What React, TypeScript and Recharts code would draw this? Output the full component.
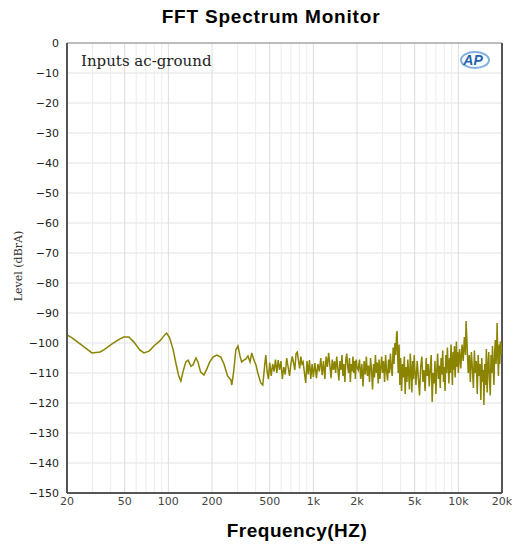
import { LineChart, Line, XAxis, YAxis, CartesianGrid, ReferenceLine } from 'recharts';

// smooth low-frequency part
const lowFreq = [20, 21.7, 24.6, 27.9, 29.7, 33.8, 35.9, 40.9, 46.1, 49.2, 53.4, 57.9, 63.5, 67.8, 73.7, 79.5, 87.4, 94.4, 97.4, 102, 108, 113, 118, 122, 126, 132, 137, 143, 148, 155, 160, 167, 176, 184, 193, 203, 216, 230, 242, 256, 270, 274, 283, 292, 302, 312, 320, 332, 343, 354, 366, 376, 389, 402, 414, 434, 448, 462];
const lowLevel = [-97.3, -98.3, -100.3, -102.3, -103.3, -103, -102.3, -100.3, -98.7, -98, -98, -99.7, -102.3, -103.3, -102.7, -101, -99.3, -97.3, -96.7, -98.3, -102.3, -107, -111, -112.7, -109.7, -106.3, -105.7, -107.7, -107.3, -105, -106.3, -109.7, -110.7, -108.7, -106.3, -104.7, -104, -104.7, -107, -111, -112.3, -114, -109, -102.3, -101, -104.3, -106.3, -105.7, -105.3, -104.3, -106.3, -103.3, -105.7, -107.3, -110, -113.3, -114, -107.3];

// noise floor 470 Hz - 1 kHz
const midFreq = [470, 480, 490, 500, 512, 524, 536, 548, 560, 572, 585, 598, 611, 625, 640, 655, 670, 685, 700, 715, 730, 745, 760, 775, 790, 805, 820, 835, 850, 868, 886, 904, 922, 940, 960, 980, 1000];
const midLevel = [-104, -109.5, -112, -106.5, -111, -107, -109.5, -105.5, -110, -105.7, -109, -106, -112, -108, -110.5, -105, -108, -111, -107, -104.5, -106.5, -109, -103.5, -103, -106, -108.5, -104.5, -107, -106.3, -110, -113.3, -106, -110.5, -105.7, -112, -107, -111.3];

// 1 kHz - 2 kHz
const kFreq = [1025, 1050, 1075, 1100, 1125, 1150, 1175, 1200, 1225, 1250, 1275, 1300, 1325, 1350, 1375, 1400, 1425, 1450, 1475, 1500, 1525, 1550, 1575, 1600, 1625, 1650, 1675, 1700, 1725, 1750, 1775, 1800, 1825, 1850, 1875, 1900, 1925, 1950, 1975, 2000];
const kLevel = [-106.7, -111.7, -107, -109.5, -105, -110.7, -106, -112, -104.5, -108, -103.3, -107.5, -111.7, -105.5, -109, -106, -110, -104.5, -108.5, -112.5, -106, -109, -104, -111, -107, -113, -105.5, -103.5, -108, -110, -105, -113, -107, -109.5, -104.5, -110, -106, -112, -105.5, -108];

// 2 kHz - 5 kHz
const hiFreq = [2040, 2080, 2120, 2160, 2200, 2240, 2280, 2320, 2360, 2400, 2440, 2480, 2520, 2560, 2600, 2640, 2680, 2720, 2760, 2800, 2840, 2880, 2920, 2960, 3000, 3050, 3100, 3150, 3200, 3250, 3300, 3350, 3400, 3450, 3500, 3550, 3600, 3650, 3700, 3750, 3780, 3800, 3850, 3900, 3950, 4000, 4060, 4120, 4180, 4240, 4300, 4360, 4420, 4480, 4540, 4600, 4660, 4720, 4780, 4840, 4900, 4960];
const hiLevel = [-109, -105.5, -112, -107, -114.5, -106, -110.5, -104.5, -111, -107.5, -113, -105, -109, -115.5, -107, -111.5, -104, -110, -106.5, -113.5, -105.5, -112, -108, -104.5, -110, -106, -113, -104, -109.5, -112.5, -105.5, -110, -103.5, -108.5, -111, -101.5, -107, -100, -104, -97, -96, -101, -110, -100.5, -114, -105, -116, -107, -111.5, -104.5, -117, -108, -113, -105.5, -110, -115.5, -103.5, -109, -116.5, -106, -112, -104];

// 5 kHz - 10 kHz
const topFreq = [5000, 5100, 5200, 5300, 5400, 5500, 5600, 5700, 5800, 5900, 6000, 6100, 6200, 6300, 6400, 6500, 6600, 6700, 6800, 6900, 7000, 7100, 7200, 7300, 7400, 7500, 7600, 7700, 7800, 7900, 8000, 8100, 8200, 8300, 8400, 8500, 8600, 8700, 8800, 8900, 9000, 9100, 9200, 9300, 9400, 9500, 9600, 9700, 9800, 9900, 10000];
const topLevel = [-108, -114, -106, -111.5, -117.5, -108, -104.5, -113, -109, -116, -105, -111, -107, -114.5, -108.5, -104, -119.7, -110, -113.5, -106, -117, -109, -103.5, -112, -107.5, -115, -105, -110.5, -102.5, -113, -108, -116, -104, -110, -101.5, -107, -113.5, -105, -110, -100.5, -106.5, -114, -103, -109, -101, -111.5, -105, -99.5, -108, -103, -110];

// 10 kHz - 20 kHz
const endFreq = [10200, 10400, 10600, 10800, 11000, 11200, 11300, 11500, 11700, 11900, 12100, 12300, 12500, 12700, 12900, 13100, 13300, 13500, 13700, 13900, 14100, 14300, 14500, 14700, 14900, 15000, 15200, 15400, 15600, 15800, 16000, 16200, 16400, 16600, 16800, 17000, 17200, 17400, 17600, 17800, 18000, 18200, 18400, 18500, 18700, 18900, 19100, 19300, 19500, 19700, 19900, 20000];
const endLevel = [-102, -108.5, -100.5, -106, -98, -104, -92.7, -101, -110, -104, -113, -103, -108.5, -115, -102.5, -110, -106, -117, -104, -111, -107, -119, -105, -113, -109, -120.7, -107, -114, -102, -116.5, -108, -103, -112, -117.5, -104, -110, -101, -108.5, -114, -103, -99, -107, -101, -93.3, -104, -111, -100.5, -107, -99.5, -104, -100, -103];

const xTicks = [20, 50, 100, 200, 500, 1000, 2000, 5000, 10000, 20000];
const yTicks = [0, -10, -20, -30, -40, -50, -60, -70, -80, -90, -100, -110, -120, -130, -140, -150];
const minorGrid = [30, 40, 60, 70, 80, 90, 300, 400, 600, 700, 800, 900, 3000, 4000, 6000, 7000, 8000, 9000];

const allFreq = [...lowFreq, ...midFreq, ...kFreq, ...hiFreq, ...topFreq, ...endFreq];
const allLevel = [...lowLevel, ...midLevel, ...kLevel, ...hiLevel, ...topLevel, ...endLevel];
const data = allFreq.map((f, i) => ({ freq: f, level: allLevel[i] }));

const fmtHz = (v: number) => (v >= 1000 ? `${v / 1000}k` : `${v}`);
const fmtDb = (v: number) => `${v}`.replace('-', '\u2212');

const tickStyle = { fontFamily: 'DejaVu Sans', fontSize: 11, fill: '#222' };

export default function App() {
  return (
    <div style={{ position: 'absolute', left: 0, top: 0, width: 514, height: 550, background: '#fff', fontFamily: 'Liberation Sans, Arial, sans-serif' }}>
      <div style={{ position: 'absolute', left: 0, width: 514, top: 6, textAlign: 'center', paddingLeft: 28, boxSizing: 'border-box', fontSize: 19, fontWeight: 'bold', letterSpacing: 0.8, color: '#000' }}>
        FFT Spectrum Monitor
      </div>
      <LineChart width={514} height={550} data={data} margin={{ top: 43, right: 12, left: 0, bottom: 27 }}>
        <CartesianGrid vertical={false} stroke="#e2e2e2" />
        {minorGrid.map((f) => (
          <ReferenceLine key={f} x={f} stroke="#ececec" />
        ))}
        {xTicks.slice(1, -1).map((f) => (
          <ReferenceLine key={f} x={f} stroke="#dcdcdc" />
        ))}
        <ReferenceLine y={0} stroke="#888" />
        <ReferenceLine x={20000} stroke="#555" strokeWidth={2} />
        <XAxis
          dataKey="freq"
          type="number"
          scale="log"
          domain={[20, 20000]}
          ticks={xTicks}
          tickFormatter={fmtHz}
          allowDataOverflow
          height={30}
          tickLine={false}
          tickSize={2}
          axisLine={{ stroke: '#555', strokeWidth: 2 }}
          tick={{ ...tickStyle, fill: '#444' }}
          interval={0}
        />
        <YAxis
          type="number"
          domain={[-150, 0]}
          ticks={yTicks}
          tickFormatter={fmtDb}
          width={67}
          tickLine={false}
          axisLine={{ stroke: '#555', strokeWidth: 2 }}
          tick={tickStyle}
          interval={0}
        />
        <Line
          type="linear"
          dataKey="level"
          stroke="#8a8400"
          strokeWidth={1.5}
          dot={false}
          isAnimationActive={false}
        />
      </LineChart>
      <div style={{ position: 'absolute', left: 81, top: 52, fontFamily: 'DejaVu Serif', fontSize: 15, color: '#222' }}>
        Inputs ac-ground
      </div>
      <svg style={{ position: 'absolute', left: 456, top: 49 }} width={36} height={22}>
        <ellipse cx={19} cy={11} rx={14} ry={8} fill="none" stroke="#7fb0de" strokeWidth={2} />
        <text x={17} y={16} textAnchor="middle" fontFamily="Liberation Sans" fontStyle="italic" fontWeight="bold" fontSize={14} fill="#1f64b0">AP</text>
      </svg>
      <div style={{ position: 'absolute', left: 18, top: 266, transform: 'translate(-50%, -50%) rotate(-90deg)', fontFamily: 'DejaVu Serif', fontSize: 11, color: '#333', whiteSpace: 'nowrap' }}>
        Level (dBrA)
      </div>
      <div style={{ position: 'absolute', left: 0, width: 514, top: 520, textAlign: 'center', paddingLeft: 80, boxSizing: 'border-box', fontSize: 19, fontWeight: 'bold', letterSpacing: 0.5, color: '#000' }}>
        Frequency(HZ)
      </div>
    </div>
  );
}
